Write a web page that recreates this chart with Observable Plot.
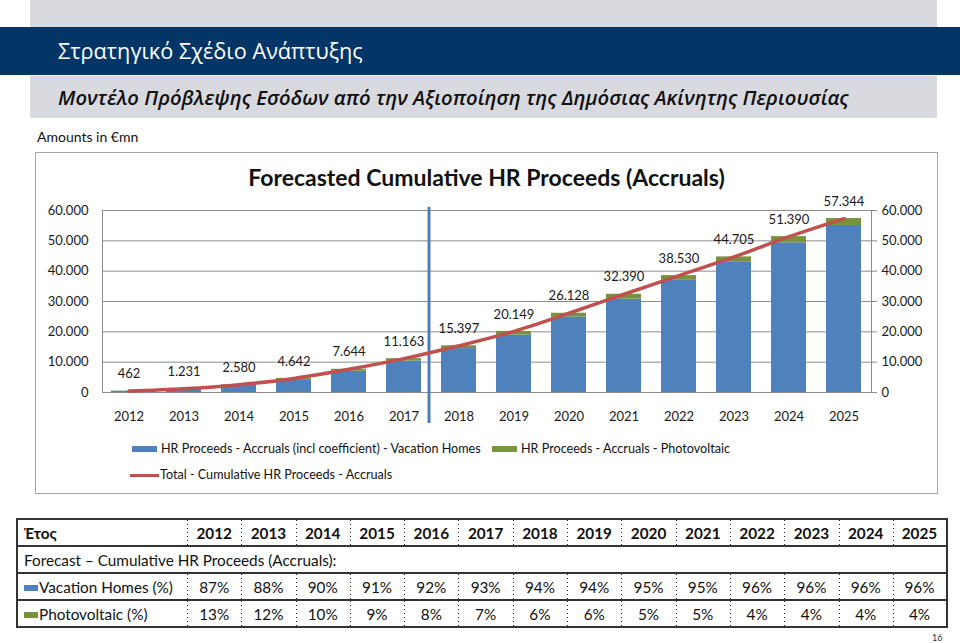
<!DOCTYPE html>
<html><head><meta charset="utf-8">
<script src="https://cdn.jsdelivr.net/npm/d3@7"></script>
<script src="https://cdn.jsdelivr.net/npm/@observablehq/plot@0.6"></script>
<style>
body{margin:0;width:960px;height:643px;position:relative;background:#fff;font-family:Lato,"Open Sans",sans-serif;overflow:hidden;color:#111}
.abs{position:absolute;white-space:nowrap}
#tbl{position:absolute;left:16px;top:518px;border-collapse:collapse;border:2px solid #333;font-size:15.3px;table-layout:fixed}
#tbl td{padding:0;text-align:center;height:25px;background-image:linear-gradient(#222 34%, rgba(0,0,0,0) 0);background-size:1px 4px;background-repeat:repeat-y;background-position:left top}
#tbl tr{border-bottom:2px solid #333}
#tbl td.lab{text-align:left;background-image:none;padding-left:6px}
#tbl tr.head td{font-weight:bold}
.sw{display:inline-block;width:14px;height:6px;margin-right:1px;vertical-align:2px}
</style></head><body>
<div class="abs" style="left:30px;top:0;width:907px;height:27px;background:#D9DAE0"></div>
<div class="abs" style="left:0;top:27px;width:960px;height:48px;background:#033567"></div>
<div class="abs" style="left:58px;top:27px;height:48px;line-height:48px;color:#fff;font-size:21.7px;font-family:'Open Sans'">Στρατηγικό Σχέδιο Ανάπτυξης</div>
<div class="abs" style="left:30px;top:76px;width:907px;height:42px;background:#D9DAE0"></div>
<div class="abs" style="left:58px;top:76px;height:42px;line-height:42px;color:#111;font-size:20.25px;font-style:italic;font-weight:600;font-family:'Open Sans'">Μοντέλο Πρόβλεψης Εσόδων από την Αξιοποίηση της Δημόσιας Ακίνητης Περιουσίας</div>
<div class="abs" style="left:37px;top:128px;font-size:14px;line-height:18px">Amounts in €mn</div>
<div class="abs" style="left:35px;top:152px;width:901px;height:340px;border:1px solid #A6A6A6"></div>
<div id="chart" class="abs" style="left:35px;top:152px"></div>
<div class="abs" style="left:35px;top:163px;width:903px;text-align:center;font-size:23px;font-weight:bold;line-height:28px">Forecasted Cumulative HR Proceeds (Accruals)</div>
<div id="legend"></div>
<table id="tbl"></table>
<div class="abs" style="left:932px;top:632px;font-size:9px;color:#333">16</div>
<script>
const years = ["2012","2013","2014","2015","2016","2017","2018","2019","2020","2021","2022","2023","2024","2025"];
const totals = [462,1231,2580,4642,7644,11163,15397,20149,26128,32390,38530,44705,51390,57344];
const vacationValues = [402,1083,2322,4224,7032,10382,14473,18940,24822,30771,36989,42917,49334,55050];
const pvValues = [60,148,258,418,612,781,924,1209,1306,1619,1541,1788,2056,2294];
const vacationPct = ["87%","88%","90%","91%","92%","93%","94%","94%","95%","95%","96%","96%","96%","96%"];
const pvPct = ["13%","12%","10%","9%","8%","7%","6%","6%","5%","5%","4%","4%","4%","4%"];
const seriesNames = ["HR Proceeds - Accruals (incl coefficient) - Vacation  Homes", "HR Proceeds - Accruals -  Photovoltaic"];
const seriesColors = ["#4F81BD", "#77933C"];
const lineName = "Total - Cumulative HR Proceeds - Accruals";
const lineColor = "#C0504D";
const yTicks = [0,10000,20000,30000,40000,50000,60000];
const dividerYear = "2017";
const tableHeader = "Έτος";
const tableSection = "Forecast – Cumulative HR Proceeds (Accruals):";
const rowLabels = ["Vacation Homes (%)", "Photovoltaic (%)"];

const fmt = v => d3.format(",")(v).replace(/,/g, ".");

const stacked = [];
years.forEach((y, i) => {
  stacked.push({year: y, series: seriesNames[0], value: vacationValues[i]});
  stacked.push({year: y, series: seriesNames[1], value: pvValues[i]});
});
const totalRows = years.map((y, i) => ({year: y, total: totals[i]}));

const grid = "#8C8C8C";
const chart = Plot.plot({
  width: 902, height: 280,
  marginLeft: 67, marginRight: 66, marginTop: 58, marginBottom: 40,
  style: {fontFamily: "Lato, sans-serif", fontSize: "13px", color: "#1a1a1a", background: "transparent"},
  x: {type: "band", domain: years, paddingInner: 0.36, paddingOuter: 0.17, axis: null},
  y: {domain: [0, 60000], axis: null},
  color: {domain: seriesNames, range: seriesColors},
  marks: [
    Plot.gridY(yTicks, {stroke: grid, strokeOpacity: 1}),
    Plot.frame({stroke: grid}),
    Plot.barY(stacked, {x: "year", y: "value", fill: "series", order: null}),
    Plot.ruleX([dividerYear], {x: d => d, dx: 25, stroke: "#4A7EBB", strokeWidth: 3, insetTop: -3, insetBottom: -31}),
    Plot.line(totalRows, {x: "year", y: "total", stroke: lineColor, strokeWidth: 3.5, curve: "catmull-rom"}),
    Plot.text(totalRows, {x: "year", y: "total", text: d => fmt(d.total), dy: -17, fontSize: 13, fill: "#1a1a1a"}),
    Plot.axisY(yTicks, {anchor: "left", tickSize: 0, tickPadding: 14, tickFormat: fmt, fontSize: 13, label: null}),
    Plot.axisY(yTicks, {anchor: "right", tickSize: 5, tickPadding: 5, stroke: grid, tickFormat: fmt, fontSize: 13, label: null}),
    Plot.axisX({tickSize: 0, tickPadding: 19, fontSize: 13, label: null})
  ]
});
document.getElementById("chart").appendChild(chart);

// legend
const lg = document.getElementById("legend");
const items = [
  {kind: "rect", color: seriesColors[0], text: seriesNames[0], left: 132, top: 441},
  {kind: "rect", color: seriesColors[1], text: seriesNames[1], left: 492, top: 441},
  {kind: "line", color: lineColor, text: lineName, left: 130, top: 467}
];
items.forEach(it => {
  const d = document.createElement("div");
  d.className = "abs";
  d.style.cssText = `left:${it.left}px;top:${it.top}px;font-size:12.6px;line-height:16px;display:flex;align-items:center`;
  const s = document.createElement("span");
  s.style.cssText = it.kind === "rect"
    ? `display:inline-block;width:25px;height:6px;background:${it.color};margin-right:4px`
    : `display:inline-block;width:29px;height:3px;background:${it.color};margin-right:1px`;
  d.appendChild(s);
  d.appendChild(document.createTextNode(it.text));
  lg.appendChild(d);
});

// table
const tbl = document.getElementById("tbl");
let html = `<colgroup><col style="width:170px">${years.map(() => '<col style="width:54.3px">').join("")}</colgroup>`;
html += `<tr class="head"><td class="lab">${tableHeader}</td>${years.map(y => `<td>${y}</td>`).join("")}</tr>`;
html += `<tr><td class="lab" colspan="${years.length + 1}">${tableSection}</td></tr>`;
html += `<tr><td class="lab"><span class="sw" style="background:${seriesColors[0]}"></span>${rowLabels[0]}</td>${vacationPct.map(v => `<td>${v}</td>`).join("")}</tr>`;
html += `<tr><td class="lab"><span class="sw" style="background:${seriesColors[1]}"></span>${rowLabels[1]}</td>${pvPct.map(v => `<td>${v}</td>`).join("")}</tr>`;
tbl.innerHTML = html;
</script>
</body></html>
